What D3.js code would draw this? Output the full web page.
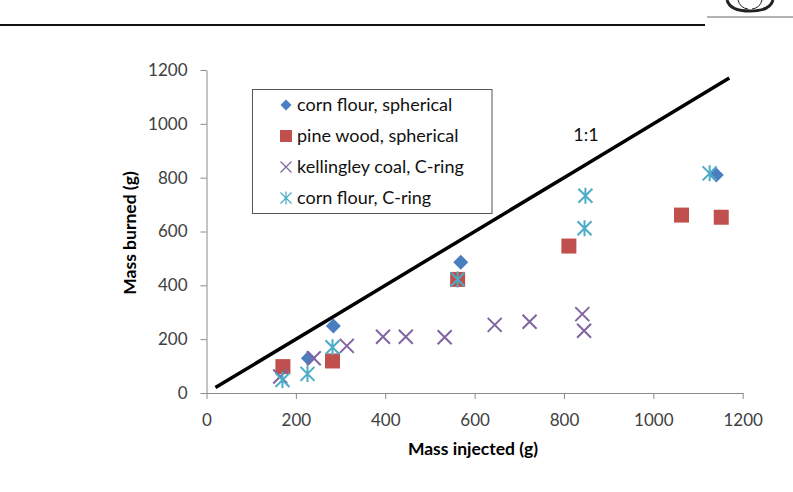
<!DOCTYPE html>
<html>
<head>
<meta charset="utf-8">
<script src="https://cdn.jsdelivr.net/npm/d3@7"></script>
<style>
  body { margin: 0; background: #fff; }
  svg { display: block; font-family: Lato, "Open Sans", sans-serif; }
</style>
</head>
<body>
<svg id="chart" width="793" height="492"></svg>
<script>
// values (grams)
const cornSphX = [228, 284, 569, 1141];
const cornSphY = [129, 249, 486, 810];

const pineSphX = [171, 282, 562, 811, 1063, 1152];
const pineSphY = [98, 119, 422, 546, 661, 653];

const coalRingX = [165, 240, 314, 395, 446, 533, 645, 723, 841, 845];
const coalRingY = [61, 129, 175, 209, 209, 207, 253, 265, 293, 231];

const cornRingX = [170, 226, 282, 562, 846, 848, 1126];
const cornRingY = [48, 71, 170, 422, 612, 733, 816];

const oneToOneX = [20, 280, 565, 840, 1170];
const oneToOneY = [20, 280, 565, 840, 1170];

const tickValues = [0, 200, 400, 600, 800, 1000, 1200];
const seriesNames = ["corn flour, spherical", "pine wood, spherical", "kellingley coal, C-ring", "corn flour, C-ring"];

const colors = { diamond: "#4a7ebf", square: "#c0504d", cross: "#8064a2", star: "#4bacc6" };

const svg = d3.select("#chart");

// page header rule and logo stub
svg.append("line").attr("x1", 0).attr("x2", 705).attr("y1", 25).attr("y2", 25)
    .attr("stroke", "#111").attr("stroke-width", 2);
svg.append("line").attr("x1", 707).attr("x2", 793).attr("y1", 17).attr("y2", 17)
    .attr("stroke", "#9a9a9a").attr("stroke-width", 1.5);
const logo = svg.append("g").attr("fill", "none").attr("stroke", "#222");
logo.append("path").attr("d", "M727,0 Q730,11 750,11 Q770,11 773,0").attr("stroke-width", 3);
logo.append("path").attr("d", "M738,0 Q740,8 748,9").attr("stroke-width", 1);
logo.append("path").attr("d", "M762,0 Q760,8 752,9").attr("stroke-width", 1);

const x = d3.scaleLinear().domain([0, 1200]).range([206.5, 742.7]);
const y = d3.scaleLinear().domain([0, 1200]).range([393, 70]);

// axes
const xAxis = svg.append("g")
    .attr("transform", `translate(0, ${y(0)})`)
    .call(d3.axisBottom(x).tickValues(tickValues).tickFormat(d3.format("d"))
        .tickSize(6).tickPadding(15).tickSizeOuter(0));
const yAxis = svg.append("g")
    .attr("transform", `translate(${x(0)}, 0)`)
    .call(d3.axisLeft(y).tickValues(tickValues).tickFormat(d3.format("d"))
        .tickSize(6).tickPadding(13).tickSizeOuter(0));

[xAxis, yAxis].forEach(ax => {
    ax.select(".domain").attr("stroke", "#8a8a8a").attr("stroke-width", 1);
    ax.selectAll(".tick line").attr("stroke", "#8a8a8a");
    ax.selectAll("text").attr("fill", "#404040").style("font-size", "17px")
        .style("font-family", "Lato, sans-serif");
});

// axis titles
svg.append("text")
    .attr("x", 473).attr("y", 455)
    .attr("text-anchor", "middle")
    .style("font-size", "17.5px").style("font-weight", "bold")
    .text("Mass injected (g)");

svg.append("text")
    .attr("transform", "translate(136, 233) rotate(-90)")
    .attr("text-anchor", "middle")
    .style("font-size", "17.5px").style("font-weight", "bold")
    .text("Mass burned (g)");

// 1:1 line
const line = d3.line().x(d => x(d[0])).y(d => y(d[1]));
svg.append("path")
    .datum(d3.zip(oneToOneX, oneToOneY))
    .attr("d", line)
    .attr("fill", "none")
    .attr("stroke", "#000")
    .attr("stroke-width", 3.5);

svg.append("text")
    .attr("x", 586).attr("y", 141)
    .attr("text-anchor", "middle")
    .style("font-size", "18px")
    .attr("fill", "#111")
    .text("1:1");

// marker shapes
const shape = {
    diamond: r => `M0,${-r}L${r},0L0,${r}L${-r},0Z`,
    square: r => `M${-r},${-r}H${r}V${r}H${-r}Z`,
    cross: r => `M${-r},${-r}L${r},${r}M${r},${-r}L${-r},${r}`,
    star: r => `M${-r},${-r}L${r},${r}M${r},${-r}L${-r},${r}M0,${-r - 1}V${r + 1}`
};

function drawMarker(sel, kind, r) {
    const filled = kind === "diamond" || kind === "square";
    sel.attr("d", shape[kind](r))
        .attr("fill", filled ? colors[kind] : "none")
        .attr("stroke", filled ? "none" : colors[kind])
        .attr("stroke-width", filled ? 0 : 2);
}

const series = [
    { kind: "diamond", xs: cornSphX, ys: cornSphY, r: 7.5 },
    { kind: "square", xs: pineSphX, ys: pineSphY, r: 7.5 },
    { kind: "cross", xs: coalRingX, ys: coalRingY, r: 7 },
    { kind: "star", xs: cornRingX, ys: cornRingY, r: 7 }
];

series.forEach(s => {
    svg.append("g").selectAll("path")
        .data(d3.zip(s.xs, s.ys))
        .join("path")
        .attr("transform", d => `translate(${x(d[0])}, ${y(d[1])})`)
        .call(drawMarker, s.kind, s.r);
});

// legend
const legend = svg.append("g");
legend.append("rect")
    .attr("x", 252.5).attr("y", 89.5)
    .attr("width", 239.5).attr("height", 124)
    .attr("fill", "#fff")
    .attr("stroke", "#555").attr("stroke-width", 1);

const legendSize = { diamond: 5.5, square: 6, cross: 5.5, star: 5.5 };
series.forEach((s, i) => {
    const row = legend.append("g").attr("transform", `translate(286, ${105 + i * 31})`);
    row.append("path").call(drawMarker, s.kind, legendSize[s.kind]);
    if (s.kind === "cross" || s.kind === "star") {
        row.select("path").attr("stroke-width", 1.2);
    }
    row.append("text")
        .attr("x", 11).attr("dy", "0.35em")
        .style("font-size", "18px")
        .attr("fill", "#111")
        .text(seriesNames[i]);
});
</script>
</body>
</html>
